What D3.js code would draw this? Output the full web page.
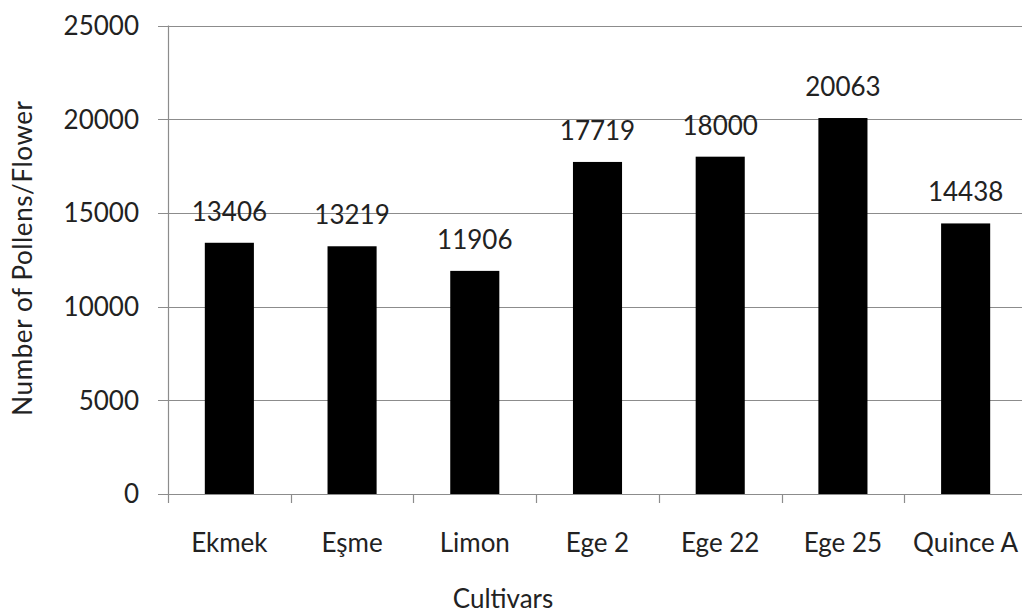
<!DOCTYPE html>
<html>
<head>
<meta charset="utf-8">
<script src="https://cdn.jsdelivr.net/npm/d3@7"></script>
<style>
  html, body { margin: 0; padding: 0; background: #fff; }
  svg { display: block; }
  text { font-family: Lato, "Open Sans", sans-serif; fill: #222; }
</style>
</head>
<body>
<svg id="chart" width="1022" height="615"></svg>
<script>
// Pollen counts per flower for each quince cultivar
const cultivars = ["Ekmek", "Eşme", "Limon", "Ege 2", "Ege 22", "Ege 25", "Quince A"];
const pollens = [13406, 13219, 11906, 17719, 18000, 20063, 14438];
const yTicks = [0, 5000, 10000, 15000, 20000, 25000];
const yTitle = "Number of Pollens/Flower";
const xTitle = "Cultivars";

const svg = d3.select("#chart");
const fontSize = 26;
const axisColor = "#8c8c8c";

const plot = { left: 168, right: 1027, top: 25.5, bottom: 494 };

const x = d3.scaleBand()
  .domain(cultivars)
  .range([plot.left, plot.right])
  .paddingInner(0.6)
  .paddingOuter(0.3);

const y = d3.scaleLinear()
  .domain([0, 25000])
  .range([plot.bottom, plot.top]);

// horizontal gridlines with outside tick marks
svg.append("g")
  .selectAll("line")
  .data(yTicks)
  .join("line")
  .attr("x1", plot.left - 10)
  .attr("x2", plot.right)
  .attr("y1", d => Math.round(y(d)) + 0.5)
  .attr("y2", d => Math.round(y(d)) + 0.5)
  .attr("stroke", axisColor)
  .attr("stroke-width", 1.2);

// y tick labels
svg.append("g")
  .selectAll("text")
  .data(yTicks)
  .join("text")
  .attr("x", 139)
  .attr("y", d => y(d))
  .attr("dy", "0.36em")
  .attr("text-anchor", "end")
  .attr("font-size", fontSize)
  .text(d => d);

// bars
svg.append("g")
  .selectAll("rect")
  .data(cultivars)
  .join("rect")
  .attr("x", d => x(d))
  .attr("width", x.bandwidth())
  .attr("y", (d, i) => y(pollens[i]))
  .attr("height", (d, i) => y(0) - y(pollens[i]))
  .attr("fill", "#000");

// value labels above bars
svg.append("g")
  .selectAll("text")
  .data(cultivars)
  .join("text")
  .attr("x", d => x(d) + x.bandwidth() / 2)
  .attr("y", (d, i) => y(pollens[i]) - 22)
  .attr("text-anchor", "middle")
  .attr("font-size", fontSize)
  .text((d, i) => pollens[i]);

// y axis line
svg.append("line")
  .attr("x1", plot.left + 0.5).attr("x2", plot.left + 0.5)
  .attr("y1", plot.top).attr("y2", plot.bottom)
  .attr("stroke", axisColor).attr("stroke-width", 1.2);

// x category boundary ticks
const bounds = d3.range(cultivars.length + 1).map(i => plot.left + i * (plot.right - plot.left) / cultivars.length);
svg.append("g")
  .selectAll("line")
  .data(bounds)
  .join("line")
  .attr("x1", d => Math.round(d) + 0.5)
  .attr("x2", d => Math.round(d) + 0.5)
  .attr("y1", plot.bottom)
  .attr("y2", plot.bottom + 9)
  .attr("stroke", axisColor)
  .attr("stroke-width", 1.2);

// category labels
svg.append("g")
  .selectAll("text")
  .data(cultivars)
  .join("text")
  .attr("x", d => x(d) + x.bandwidth() / 2)
  .attr("y", 552)
  .attr("text-anchor", "middle")
  .attr("font-size", fontSize)
  .text(d => d);

// axis titles
svg.append("text")
  .attr("transform", "translate(32,258) rotate(-90)")
  .attr("text-anchor", "middle")
  .attr("font-size", fontSize)
  .attr("letter-spacing", 0.6)
  .text(yTitle);

svg.append("text")
  .attr("x", 503)
  .attr("y", 608)
  .attr("text-anchor", "middle")
  .attr("font-size", fontSize)
  .text(xTitle);
</script>
</body>
</html>
